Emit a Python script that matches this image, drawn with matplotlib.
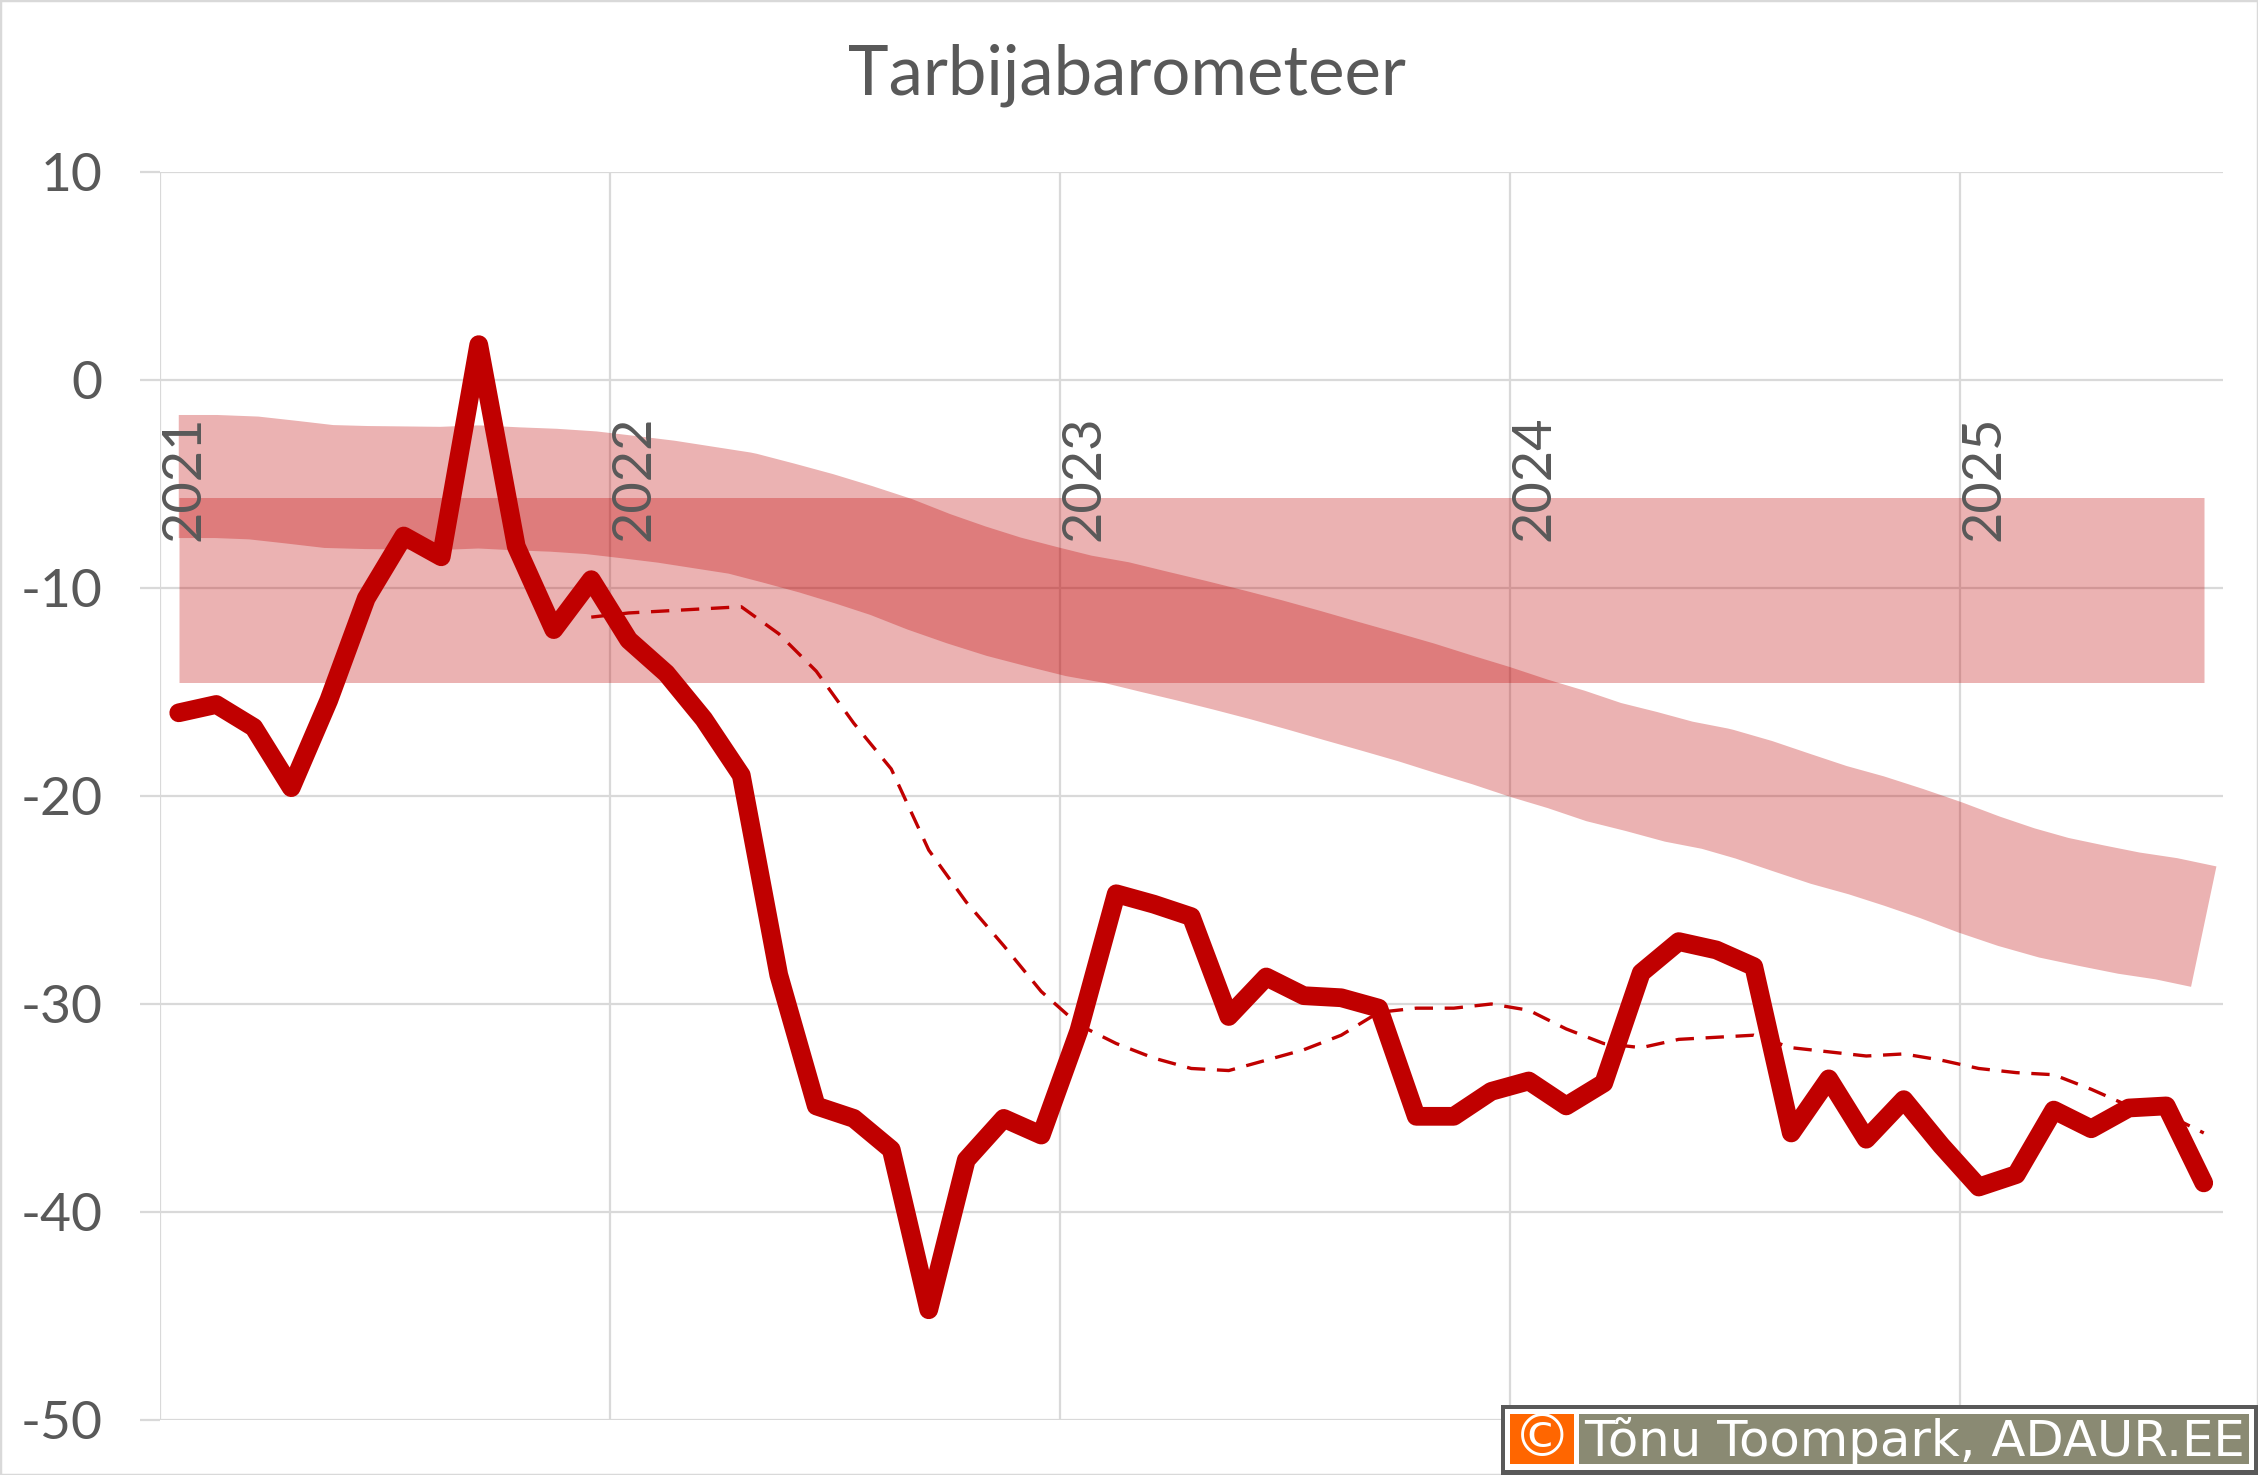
import numpy as np
import matplotlib
matplotlib.use("Agg")
import matplotlib.pyplot as plt
from matplotlib.patches import Rectangle

W, H = 2258, 1475

YEARS = ["2021", "2022", "2023", "2024", "2025"]
YEAR_TICKS = [0, 12, 24, 36, 48]
Y_TICKS = [10, 0, -10, -20, -30, -40, -50]
Y_LABELS = ["10", "0", "-10", "-20", "-30", "-40", "-50"]

# monthly index, jan 2021 - jul 2025
barometer = [
    -16.0, -15.6, -16.7, -19.6, -15.4, -10.5, -7.5, -8.5, 1.7, -8.0, -12.0, -9.6,
    -12.5, -14.1, -16.3, -19.0, -28.6, -34.9, -35.5, -37.0, -44.7, -37.5, -35.5, -36.3,
    -31.3, -24.7, -25.2, -25.8, -30.6, -28.7, -29.6, -29.7, -30.2, -35.4, -35.4, -34.2,
    -33.7, -34.9, -33.8, -28.5, -27.0, -27.4, -28.2, -36.2, -33.6, -36.5, -34.6, -36.8,
    -38.8, -38.2, -35.1, -36.0, -35.0, -34.9, -38.6,
]

# 12 month average, starts dec 2021
average = [
    -11.4,
    -11.2, -11.1, -11.0, -10.9, -12.2, -14.0, -16.5, -18.7, -22.6, -25.1, -27.2, -29.4,
    -31.0, -31.9, -32.6, -33.1, -33.2, -32.7, -32.2, -31.5, -30.4, -30.2, -30.2, -30.0,
    -30.3, -31.2, -31.9, -32.1, -31.7, -31.6, -31.5, -32.1, -32.3, -32.5, -32.4, -32.7,
    -33.1, -33.3, -33.4, -34.1, -34.9, -35.3, -36.2,
]

# centre of the sloping wide band
trend = [
    -4.64, -4.64, -4.71, -4.91, -5.12, -5.17, -5.19, -5.21, -5.14, -5.23, -5.30, -5.42,
    -5.63, -5.85, -6.13, -6.41, -6.88, -7.37, -7.92, -8.51, -9.22, -9.85, -10.42, -10.89,
    -11.34, -11.66, -12.10, -12.53, -12.98, -13.45, -13.95, -14.47, -14.98, -15.50, -16.07, -16.62,
    -17.22, -17.76, -18.37, -18.82, -19.31, -19.66, -20.18, -20.79, -21.39, -21.89, -22.47, -23.09,
    -23.77, -24.38, -24.89, -25.27, -25.63, -25.90, -26.28,
]

# centre of the flat wide band
long_term = [-10.12] * 55

RED = "#C00000"
GREY = "#595959"
GRID = "#D9D9D9"
FONT = ["Lato", "DejaVu Sans"]


def px(x, y):
    # picture pixels to figure fractions
    return x / W, 1 - y / H


def box(x0, y0, x1, y1, color):
    fig.add_artist(Rectangle(px(x0, y1), (x1 - x0) / W, (y1 - y0) / H,
                             transform=fig.transFigure, fc=color, ec="none"))


plt.rcParams["font.family"] = FONT

fig = plt.figure(figsize=(W / 100, H / 100), dpi=100)
ax = fig.add_axes([160 / W, 1 - 1420 / H, (2222.5 - 160) / W, 1248 / H])

months = np.arange(55) + 0.5

ax.plot(months, long_term, color=RED, alpha=0.3, lw=133.2, solid_capstyle="butt")
ax.plot(months, trend, color=RED, alpha=0.3, lw=88.6, solid_capstyle="butt",
        solid_joinstyle="round")
ax.plot(months[11:], average, color=RED, lw=2.4, linestyle=(0, (5.5, 3.5)))
ax.plot(months, barometer, color=RED, lw=13.5, solid_capstyle="round",
        solid_joinstyle="round")

ax.set_xlim(0, 55)
ax.set_ylim(-50, 10)
ax.set_xticks(YEAR_TICKS)
ax.set_xticklabels([])
ax.set_yticks(Y_TICKS)
ax.set_yticklabels(Y_LABELS)
ax.tick_params(axis="x", length=0)
ax.tick_params(axis="y", length=14.4, width=1.6, color=GRID, pad=27,
               labelsize=38.5, labelcolor=GREY)
ax.grid(True, color=GRID, lw=1.6)
ax.set_axisbelow(True)
for s in ax.spines.values():
    s.set_visible(False)

for tick, year in zip(YEAR_TICKS, YEARS):
    ax.text(tick, -7.74, year, rotation=90, ha="left", va="bottom",
            fontsize=39, color=GREY)

fig.text(*px(1127, 75), "Tarbijabarometeer", ha="center", va="center",
         fontsize=49.6, color=GREY)

# chart border
fig.add_artist(Rectangle((0, 0), 1, 1, transform=fig.transFigure, fill=False,
                         ec=GRID, lw=2.5))

# copyright stamp
box(1501, 1405, 2258, 1475, "#595959")
box(1505, 1409, 2254, 1470, "#FFFFFF")
box(1510, 1414, 1574, 1464, "#FF6600")
box(1579, 1414, 2249, 1464, "#8A8A73")
fig.text(*px(1542, 1439), "©", ha="center", va="center", fontsize=42,
         color="white", family="DejaVu Sans")
fig.text(*px(1584, 1441), "Tõnu Toompark, ADAUR.EE", ha="left", va="center",
         fontsize=35.8, color="white", family="DejaVu Sans")

fig.savefig("out.png", dpi=100)
